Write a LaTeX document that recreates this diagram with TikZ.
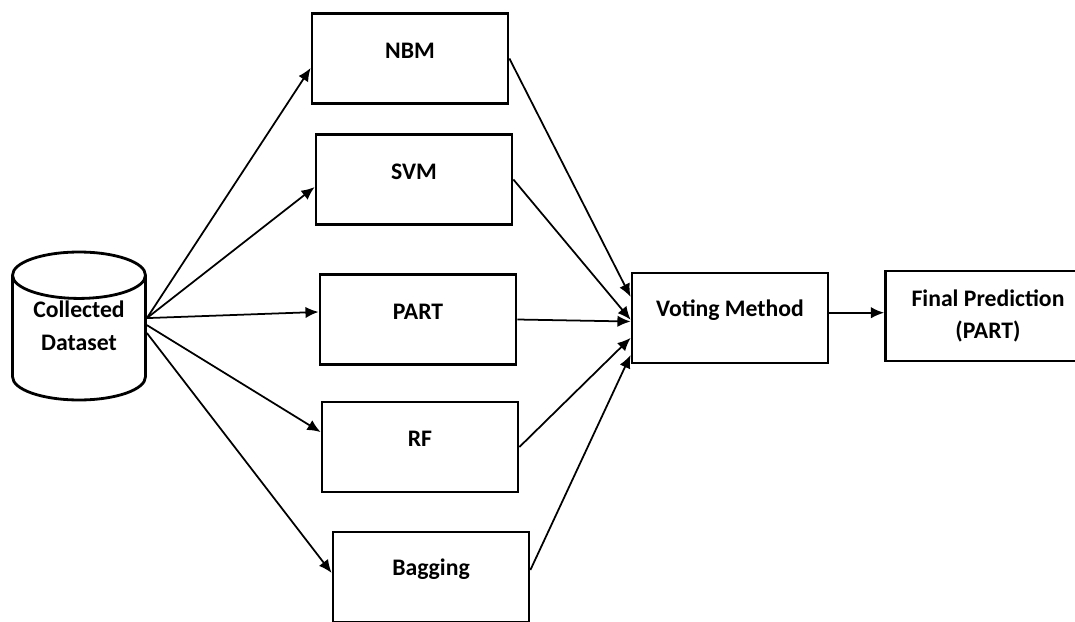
\documentclass[tikz,border=0pt]{standalone}
\usepackage{fontspec}
\setmainfont{Carlito}
\usetikzlibrary{arrows.meta,shapes.geometric}

\tikzset{
  boxfont/.style={font=\bfseries\fontsize{13.5}{18.5}\selectfont},
  model/.style={draw, line width=1.6pt, minimum width=3.92cm, minimum height=1.8cm,
    label={[boxfont, yshift=4.5pt]center:#1}},
  flow/.style={-{Latex[length=7.5pt,width=6.5pt]}, line width=1pt},
}

\begin{document}
\begin{tikzpicture}[x=0.02cm, y=-0.02cm]
  \useasboundingbox (0,0) rectangle (1075,622);

  % source data
  \node[cylinder, shape border rotate=90, draw, line width=1.6pt, aspect=0.45,
        minimum height=2.96cm, minimum width=2.66cm, align=center, boxfont,
        anchor=shape center] (data) at (79,326) {\phantom{Collected}\\\phantom{Dataset}};
  \node[align=center, boxfont] (datatext) at (data.shape center) {Collected\\Dataset};
  \coordinate (src) at (data.shape center -| data.east);

  % the five classifiers
  \node[model=NBM]     (nbm)  at (410,58.5)  {};
  \node[model=SVM]     (svm)  at (414,179.5) {};
  \node[model=PART]    (part) at (418,319.5) {};
  \node[model=RF]      (rf)   at (420,447)   {};
  \node[model=Bagging] (bag)  at (431,577)   {};

  % combining step and result
  \node[model={Voting Method}] (vote) at (730,318) {};
  \node[draw, line width=1.6pt, minimum width=4.1cm, minimum height=1.8cm,
        align=center, boxfont] (final) at (988,316) {Final Prediction\\(PART)};

  % data -> classifiers
  \draw[flow] ([yshift=4.5pt]src)  -- ([yshift=-5.4pt]nbm.west);
  \draw[flow] ([yshift=4.5pt]src)  -- ([yshift=-4.3pt]svm.west);
  \draw[flow] ([yshift=4.5pt]src)  -- ([yshift=4.3pt]part.west);
  \draw[flow] ([yshift=0.5pt]src)  -- ([yshift=8.5pt]rf.west);
  \draw[flow] ([yshift=-4pt]src)   -- ([yshift=2.3pt]bag.west);

  % classifiers -> voting
  \draw[flow] (nbm.east)  -- ([yshift=12pt]vote.west);
  \draw[flow] (svm.east)  -- ([yshift=-1pt]vote.west);
  \draw[flow] (part.east) -- ([yshift=-2pt]vote.west);
  \draw[flow] (rf.east)   -- ([yshift=-11.3pt]vote.west);
  \draw[flow] ([yshift=4pt]bag.east) -- ([yshift=-21pt]vote.west);

  \draw[flow] ([yshift=3pt]vote.east) -- ([yshift=3pt]vote.east -| final.west);
\end{tikzpicture}
\end{document}
